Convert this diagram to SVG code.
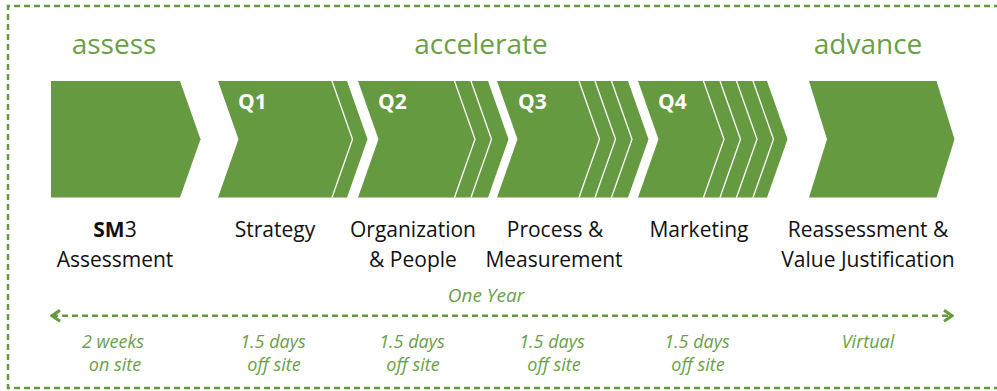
<svg xmlns="http://www.w3.org/2000/svg" width="997" height="391" viewBox="0 0 997 391">
<defs>
<style>
.chev{fill:#659a41;}
.sep{fill:none;stroke:#ffffff;stroke-width:1.3;}
.head{font-family:"Open Sans","Liberation Sans",sans-serif;font-size:28px;fill:#6a9f48;text-anchor:middle;}
.q{font-family:"Open Sans","Liberation Sans",sans-serif;font-size:21px;font-weight:bold;fill:#ffffff;}
.lbl{font-family:"Open Sans","Liberation Sans",sans-serif;font-size:21px;fill:#111111;text-anchor:middle;}
.dur{font-family:"Open Sans","Liberation Sans",sans-serif;font-size:18px;font-style:italic;fill:#6a9f48;text-anchor:middle;}
.yr{font-family:"Open Sans","Liberation Sans",sans-serif;font-size:19px;font-style:italic;fill:#6a9f48;text-anchor:middle;}
.dash{fill:none;stroke:#659a41;stroke-width:2.5;stroke-dasharray:6 4;}
</style>
<marker id="ah" viewBox="0 0 12 14" refX="10" refY="7" markerWidth="12" markerHeight="14" markerUnits="userSpaceOnUse" orient="auto-start-reverse">
<path d="M2,1.5 L10,7 L2,12.5" fill="none" stroke="#659a41" stroke-width="3"/>
</marker>
</defs>
<path class="dash" d="M1000,6 H8 V388 H1000"/>
<text class="head" x="114" y="54">assess</text>
<text class="head" x="481" y="54">accelerate</text>
<text class="head" x="868" y="54">advance</text>
<g id="sm3">
<polygon class="chev" points="51,81 180,81 200.5,139.3 180,197.5 51,197.5"/>
<text class="lbl" x="115" y="237"><tspan font-weight="bold">SM</tspan>3</text>
<text class="lbl" x="115" y="267">Assessment</text>
</g>
<g id="q1">
<polygon class="chev" points="218,81 347,81 367.5,139.3 347,197.5 218,197.5 238.5,139.3"/>
<polyline class="sep" points="332,81 352.5,139.3 332,197.5"/>
<text class="q" x="238" y="109">Q1</text>
<text class="lbl" x="275" y="237">Strategy</text>
</g>
<g id="q2">
<polygon class="chev" points="358,81 488,81 508.5,139.3 488,197.5 358,197.5 378.5,139.3"/>
<polyline class="sep" points="454.5,81 475,139.3 454.5,197.5"/>
<polyline class="sep" points="471,81 491.5,139.3 471,197.5"/>
<text class="q" x="378" y="109">Q2</text>
<text class="lbl" x="413" y="237">Organization</text>
<text class="lbl" x="413" y="267">&amp; People</text>
</g>
<g id="q3">
<polygon class="chev" points="497,81 628,81 648.5,139.3 628,197.5 497,197.5 517.5,139.3"/>
<polyline class="sep" points="579,81 599.5,139.3 579,197.5"/>
<polyline class="sep" points="595,81 615.5,139.3 595,197.5"/>
<polyline class="sep" points="611.5,81 632,139.3 611.5,197.5"/>
<text class="q" x="518" y="109">Q3</text>
<text class="lbl" x="555" y="237">Process &amp;</text>
<text class="lbl" x="554" y="267">Measurement</text>
</g>
<g id="q4">
<polygon class="chev" points="638,81 767,81 787.5,139.3 767,197.5 638,197.5 658.5,139.3"/>
<polyline class="sep" points="703.5,81 724,139.3 703.5,197.5"/>
<polyline class="sep" points="720,81 740.5,139.3 720,197.5"/>
<polyline class="sep" points="736.5,81 757,139.3 736.5,197.5"/>
<polyline class="sep" points="753,81 773.5,139.3 753,197.5"/>
<text class="q" x="658" y="109">Q4</text>
<text class="lbl" x="699" y="237">Marketing</text>
</g>
<g id="advance-step">
<polygon class="chev" points="809,81 936.5,81 954.5,139.3 936.5,197.5 809,197.5 827,139.3"/>
<text class="lbl" x="868" y="237">Reassessment &amp;</text>
<text class="lbl" x="868" y="267">Value Justification</text>
</g>
<g id="connectors">
<line class="dash" x1="52" y1="315.7" x2="952" y2="315.7" marker-start="url(#ah)" marker-end="url(#ah)"/>
</g>
<g id="durations">
<text class="yr" x="486" y="302">One Year</text>
<text class="dur" x="113" y="348">2 weeks</text>
<text class="dur" x="115" y="371">on site</text>
<text class="dur" x="273" y="348">1.5 days</text>
<text class="dur" x="274" y="371">off site</text>
<text class="dur" x="412" y="348">1.5 days</text>
<text class="dur" x="413" y="371">off site</text>
<text class="dur" x="552" y="348">1.5 days</text>
<text class="dur" x="554" y="371">off site</text>
<text class="dur" x="697" y="348">1.5 days</text>
<text class="dur" x="698" y="371">off site</text>
<text class="dur" x="868" y="348">Virtual</text>
</g>
</svg>
